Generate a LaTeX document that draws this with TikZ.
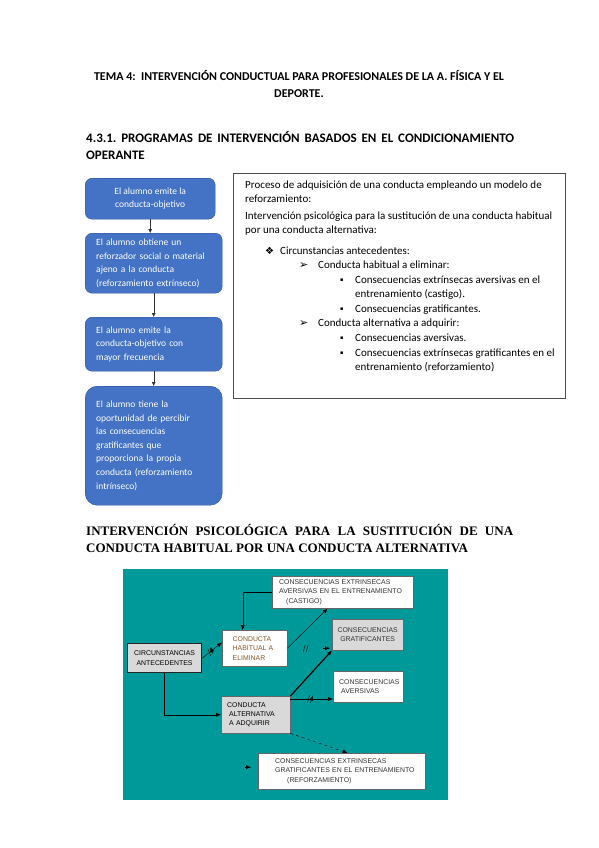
\documentclass[tikz,border=0pt]{standalone}
\usepackage{fontspec}
\setmainfont{Carlito}
\newfontfamily\romana{Liberation Serif}
\newfontfamily\arial{Liberation Sans}
\newfontfamily\simb{DejaVu Sans}
\usetikzlibrary{arrows.meta,decorations.markings,shadows,positioning}
\frenchspacing

\definecolor{azul}{HTML}{4472C4}
\definecolor{azulborde}{HTML}{2F528F}
\definecolor{verdeazul}{HTML}{009999}
\definecolor{grisclaro}{HTML}{D9D9D9}

\tikzset{
  paso/.style={rounded corners=7pt, fill=azul, draw=azulborde, text=white, anchor=north west,
    font=\fontsize{9.5}{13.6}\selectfont, inner xsep=11pt, inner ysep=0pt, align=left, minimum width=137pt},
  flecha/.style={-{Latex[length=4pt,width=4pt]}, black!80},
  texto/.style={font=\fontsize{11}{14}\selectfont, inner sep=0pt, anchor=base west},
  vineta/.style={inner sep=0pt, anchor=base west},
  caja/.style={draw=black!60, fill=white, anchor=north west, inner sep=0pt,
    font=\arial\fontsize{6.9}{9.4}\selectfont, text=black!80},
  sombra/.style={drop shadow={shadow xshift=1.2pt, shadow yshift=-1.2pt, fill=black!80, opacity=1}},
  punta/.style={-{Latex[length=5pt,width=4pt]}, black},
  corte/.style={postaction=decorate, decoration={markings, mark=at position #1 with
    {\draw[black, thin] (-2pt,-3.5pt) -- (0pt,3.5pt) (1pt,-3.5pt) -- (3pt,3.5pt);}}}
}

\begin{document}
\begin{tikzpicture}[x=1pt,y=-1pt]
\useasboundingbox[fill=white] (0,0) rectangle (599,848);

% titulos
\node[font=\bfseries\fontsize{12}{17}\selectfont, align=center, anchor=north, inner sep=0pt] (tema) at (299,70)
  {TEMA 4:\ \ INTERVENCIÓN CONDUCTUAL PARA PROFESIONALES DE LA A. FÍSICA Y EL\\DEPORTE.};
\node[font=\bfseries\fontsize{13}{17}\selectfont, text width=428pt, align=justify, anchor=north west, inner sep=0pt] (programas) at (86,131)
  {4.3.1. PROGRAMAS DE INTERVENCIÓN BASADOS EN EL CONDICIONAMIENTO\linebreak OPERANTE};

% pasos del alumno
\node[paso, minimum width=130pt, minimum height=41pt, align=center] (p1) at (85,178) {El alumno emite la\\conducta-objetivo};
\node[paso, minimum height=60pt, text width=115pt] (p2) at (85,233) {El alumno obtiene un\\reforzador social o material\\ajeno a la conducta\\(reforzamiento extrínseco)};
\node[paso, minimum height=54pt, text width=115pt] (p3) at (85,317) {El alumno emite la\\conducta-objetivo con\\mayor frecuencia};
\node[paso, rounded corners=12pt, minimum height=119pt, text width=115pt] (p4) at (85,386) {El alumno tiene la\\oportunidad de percibir\\las consecuencias\\gratificantes que\\proporciona la propia\\conducta (reforzamiento\\intrínseco)};
\foreach \a/\b in {p1/p2,p2/p3,p3/p4}
  \draw[flecha] (\a.south) -- (\a.south |- \b.north);

% recuadro de texto
\node[draw=black!70, semithick, anchor=north west, minimum width=332pt, minimum height=225pt, inner sep=0pt] (proceso) at (233,173) {};
\foreach \x/\y/\t [count=\i] in {
  245/188/{Proceso de adquisición de una conducta empleando un modelo de},
  245/202/{reforzamiento:},
  245/219/{Intervención psicológica para la sustitución de una conducta habitual},
  245/233/{por una conducta alternativa:},
  280/254/{Circunstancias antecedentes:},
  318/268/{Conducta habitual a eliminar:},
  355/283/{Consecuencias extrínsecas aversivas en el},
  355/297/{entrenamiento (castigo).},
  355/312/{Consecuencias gratificantes.},
  318/326/{Conducta alternativa a adquirir:},
  355/341/{Consecuencias aversivas.},
  355/356/{Consecuencias extrínsecas gratificantes en el},
  355/370/{entrenamiento (reforzamiento)}}
  \node[texto] (linea\i) at (\x,\y) {\t};
\foreach \x/\y/\s/\b [count=\i] in {265/254/10/❖, 299/268/11/➢, 340/281/5/▪, 340/310/5/▪, 299/326/11/➢, 340/339/5/▪, 340/354/5/▪}
  \node[vineta, font=\simb\fontsize{\s}{\s}\selectfont] (vineta\i) at (\x,\y) {\b};

% esquema
\node[font=\romana\bfseries\fontsize{13}{17}\selectfont, text width=427pt, align=justify, anchor=north west, inner sep=0pt] (sustitucion) at (86,524)
  {INTERVENCIÓN PSICOLÓGICA PARA LA SUSTITUCIÓN DE UNA\linebreak CONDUCTA HABITUAL POR UNA CONDUCTA ALTERNATIVA};
\node[fill=verdeazul, anchor=north west, minimum width=325pt, minimum height=231pt, inner sep=0pt] (fondo) at (123,569) {};

\node[caja, fill=grisclaro, draw=black!85, line width=1.2pt, minimum width=74pt, minimum height=29pt, align=center, text=black] (circ) at (127,643) {CIRCUNSTANCIAS\\ANTECEDENTES};
\node[caja, minimum width=65pt, minimum height=36pt, text width=44pt, align=left, text=brown!70!black] (habitual) at (222,630) {CONDUCTA\\HABITUAL A\\ELIMINAR};
\node[caja, sombra, minimum width=141pt, minimum height=32pt, text width=127pt, align=left] (castigo) at (272,576) {CONSECUENCIAS EXTRINSECAS\\AVERSIVAS EN EL ENTRENAMIENTO\\\hspace*{7pt}(CASTIGO)};
\node[caja, fill=grisclaro, minimum width=71pt, minimum height=31pt, align=center] (grat) at (332,619) {CONSECUENCIAS\\GRATIFICANTES};
\node[caja, minimum width=70pt, minimum height=31pt, text width=58pt, align=left] (avers) at (333,671) {CONSECUENCIAS\\\hspace*{2pt}AVERSIVAS};
\node[caja, fill=grisclaro, minimum width=69pt, minimum height=37pt, text width=57pt, align=left, text=black] (altern) at (221,696) {CONDUCTA\\\hspace*{2pt}ALTERNATIVA\\\hspace*{2pt}A ADQUIRIR};
\node[caja, sombra, minimum width=167pt, minimum height=36pt, text width=155pt, align=left] (refuerzo) at (258,753) {\hspace*{11pt}CONSECUENCIAS EXTRINSECAS\\\hspace*{11pt}GRATIFICANTES EN EL ENTRENAMIENTO\\\hspace*{23pt}(REFORZAMIENTO)};

\draw[punta, corte=0.4] (circ.east) -- (habitual.170);
\draw[punta] (castigo.west) -| ([xshift=-12pt]habitual.north);
\draw[punta] (habitual.east) -- ([xshift=-15pt]castigo.south);
\path[corte=0.4] (habitual.east) -- (habitual.east -| grat.west);
\draw[punta, shorten <=36pt, shorten >=2pt] (habitual.east) -- (habitual.east -| grat.west);
\draw[punta, very thick] (altern.north east) -- (grat.south west);
\coordinate (salida) at ([yshift=-3pt]altern.north east);
\draw[punta, corte=0.45] (salida) -- (salida -| avers.west);
\draw[punta, dashed] (altern.south east) -- ([xshift=6pt]refuerzo.north);
\draw[punta] ([xshift=-13pt,yshift=4pt]refuerzo.west) -- ([xshift=-7pt,yshift=4pt]refuerzo.west);
\draw[punta] (circ.south) |- (altern.west);
\end{tikzpicture}
\end{document}
